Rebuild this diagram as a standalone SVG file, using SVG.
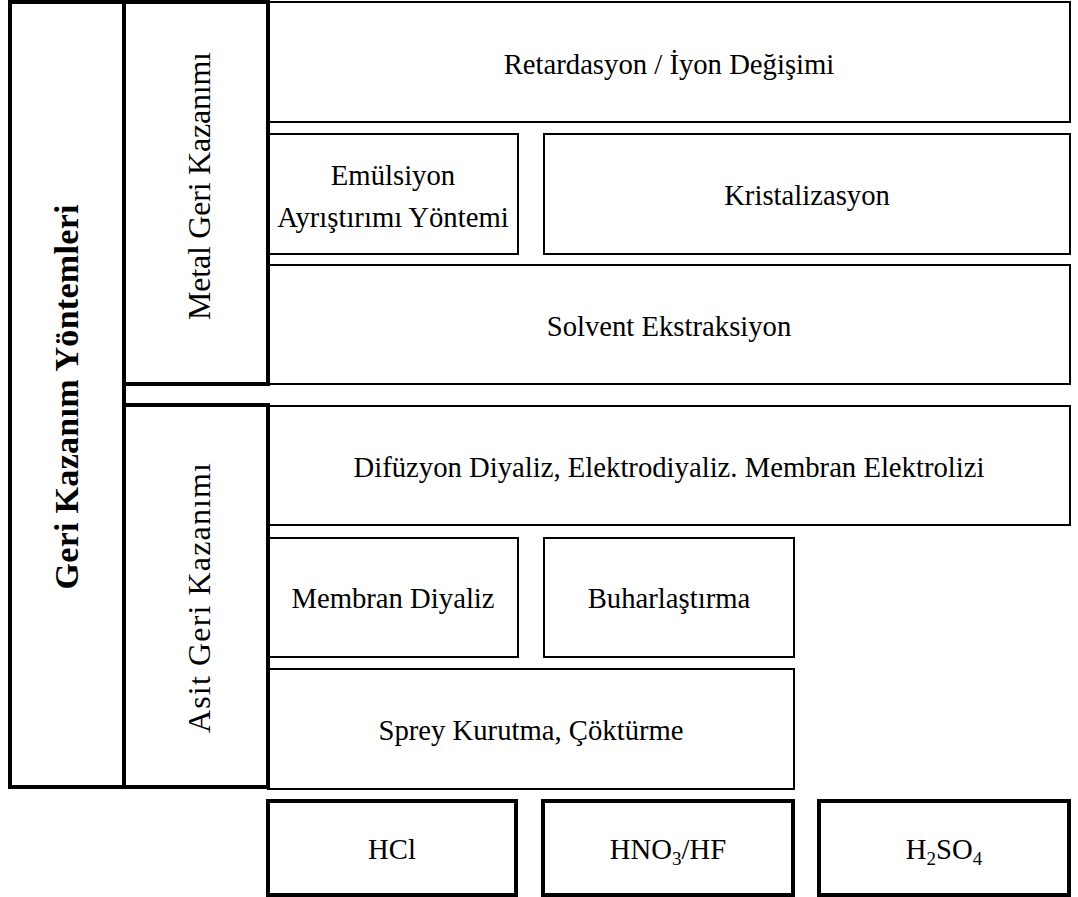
<svg xmlns="http://www.w3.org/2000/svg" width="1078" height="897" viewBox="0 0 1078 897">
<style>
.thin{fill:none;stroke:#000;stroke-width:2}
.thick{fill:none;stroke:#000;stroke-width:4}
.t{font-family:"Liberation Serif","Times New Roman",serif;font-size:28.7px;fill:#000;text-anchor:middle}
.v{font-size:32px}
.b{font-weight:bold;font-size:34px}
</style>
<rect width="1078" height="897" fill="#fff"/>
<g id="retardasyon"><rect class="thin" x="268" y="2" width="802" height="120"/><text class="t" x="669" y="74">Retardasyon / İyon Değişimi</text></g>
<g id="emulsiyon"><rect class="thin" x="268" y="134" width="250" height="120"/><text class="t" x="393" y="185">Emülsiyon</text><text class="t" x="393" y="227">Ayrıştırımı Yöntemi</text></g>
<g id="kristalizasyon"><rect class="thin" x="544" y="134" width="526" height="120"/><text class="t" x="807" y="205">Kristalizasyon</text></g>
<g id="solvent"><rect class="thin" x="268" y="265" width="802" height="119"/><text class="t" x="669" y="336">Solvent Ekstraksiyon</text></g>
<g id="difuzyon"><rect class="thin" x="268" y="406" width="802" height="119"/><text class="t" x="669" y="477">Difüzyon Diyaliz, Elektrodiyaliz. Membran Elektrolizi</text></g>
<g id="membran"><rect class="thin" x="268" y="538" width="250" height="119"/><text class="t" x="393" y="608">Membran Diyaliz</text></g>
<g id="buhar"><rect class="thin" x="544" y="538" width="250" height="119"/><text class="t" x="669" y="608">Buharlaştırma</text></g>
<g id="sprey"><rect class="thin" x="268" y="669" width="526" height="120"/><text class="t" x="531" y="740">Sprey Kurutma, Çöktürme</text></g>
<g id="outer"><rect class="thick" x="10" y="2" width="114" height="785"/><text class="t b" transform="translate(78,397) rotate(-90)" textLength="385" lengthAdjust="spacing">Geri Kazanım Yöntemleri</text></g>
<g id="metal"><rect class="thick" x="124" y="2" width="144" height="382"/><text class="t v" transform="translate(210,186) rotate(-90)" textLength="268" lengthAdjust="spacing">Metal Geri Kazanımı</text></g>
<g id="asit"><rect class="thick" x="124" y="405" width="144" height="382"/><text class="t v" transform="translate(210,598) rotate(-90)" textLength="270" lengthAdjust="spacing">Asit Geri Kazanımı</text></g>
<g id="hcl"><rect class="thick" x="268" y="801" width="248" height="94"/><text class="t" x="392" y="859">HCl</text></g>
<g id="hno3"><rect class="thick" x="543" y="801" width="250" height="94"/><text class="t" x="668" y="859">HNO<tspan font-size="19" dy="6">3</tspan><tspan dy="-6">/HF</tspan></text></g>
<g id="h2so4"><rect class="thick" x="819" y="801" width="250" height="94"/><text class="t" x="944" y="859">H<tspan font-size="19" dy="6">2</tspan><tspan dy="-6">SO</tspan><tspan font-size="19" dy="6">4</tspan></text></g>
<g id="connectors"></g>
</svg>
